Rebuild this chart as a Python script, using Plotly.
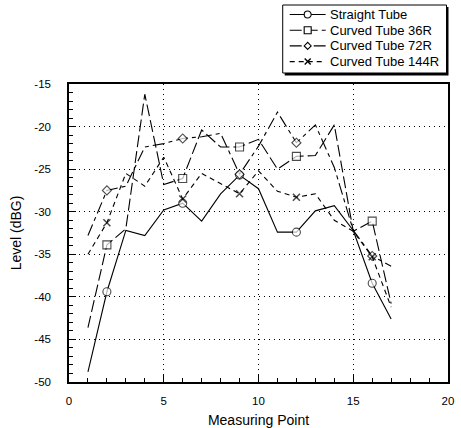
import plotly.graph_objects as go

# ---- data ----
measuring_point = list(range(1, 18))
straight_tube = [-48.8, -39.4, -32.2, -32.8, -29.8, -29.0, -31.1, -27.9, -25.7,
                 -27.3, -32.4, -32.4, -29.9, -29.3, -32.2, -38.4, -42.6]
curved_36r = [-43.6, -33.9, -32.0, -16.2, -26.8, -26.1, -20.4, -22.4, -22.4,
              -21.5, -25.0, -23.5, -23.4, -19.8, -32.3, -31.1, -40.8]
curved_72r = [-32.8, -27.5, -27.0, -22.4, -22.0, -21.4, -21.2, -20.8, -25.6,
              -22.3, -18.3, -21.9, -19.8, -24.8, -32.2, -35.2, -36.4]
curved_144r = [-35.0, -31.3, -25.5, -27.0, -23.6, -28.5, -25.5, -26.7, -27.9,
               -25.2, -27.6, -28.3, -27.9, -31.0, -32.3, -35.3, -41.2]
marked_points = [2, 6, 9, 12, 16]

series_names = ["Straight Tube", "Curved Tube 36R", "Curved Tube 72R", "Curved Tube 144R"]
x_ticks = [0, 5, 10, 15, 20]
x_ticktext = ["0", "5", "10", "15", "20"]
y_ticks = [-50, -45, -40, -35, -30, -25, -20, -15]
y_ticktext = ["-50", "-45", "-40", "-35", "-30", "-25", "-20", "-15"]

FONT = "Liberation Sans, Arial, Helvetica, sans-serif"
W, H = 461, 428
ML, MR, MT, MB = 69, 12.5, 84, 46
PL, PR, PT, PB = ML, W - MR, MT, H - MB


def px_x(px):
    return (px - PL) / (PR - PL)


def px_y(py):
    return (PB - py) / (PB - PT)


styles = [
    dict(dash="solid", symbol="circle", size=8),
    dict(dash="12px,4px", symbol="square", size=8),
    dict(dash="12px,4px,4px,4px", symbol="diamond", size=7),
    dict(dash="5px,4px", symbol="x-thin", size=7),
]
data = [straight_tube, curved_36r, curved_72r, curved_144r]
LW = 1.1

fig = go.Figure()
for name, ys, st in zip(series_names, data, styles):
    sizes = [st["size"] if x in marked_points else 0 for x in measuring_point]
    if st["symbol"] == "x-thin":
        marker = dict(symbol="x-thin", size=sizes, color="black",
                      line=dict(color="black", width=1.5))
    else:
        marker = dict(symbol=st["symbol"], size=sizes, color="white",
                      line=dict(color="black", width=1.1))
    fig.add_trace(go.Scatter(
        x=measuring_point, y=ys, mode="lines+markers", name=name,
        line=dict(color="black", width=LW, dash=st["dash"]),
        marker=marker, showlegend=False))

# ---- hand-drawn legend box (compact, like the original) ----
shapes = []
annotations = []
box_l, box_t, box_r, box_b = 283, 5, 447, 73
shapes.append(dict(type="rect", xref="paper", yref="paper",
                   x0=px_x(box_l + 2), x1=px_x(box_r + 2), y0=px_y(box_b + 2.5), y1=px_y(box_t + 2),
                   fillcolor="black", line=dict(width=0), layer="above"))
shapes.append(dict(type="rect", xref="paper", yref="paper",
                   x0=px_x(box_l), x1=px_x(box_r), y0=px_y(box_b), y1=px_y(box_t),
                   fillcolor="white", line=dict(color="black", width=1), layer="above"))
row_y = [14.5, 30.2, 45.9, 61.6]
sym_l, sym_r, sym_c, text_x = 290, 326, 308, 328
for name, st, ry in zip(series_names, styles, row_y):
    shapes.append(dict(type="line", xref="paper", yref="paper",
                       x0=px_x(sym_l), x1=px_x(sym_r), y0=px_y(ry), y1=px_y(ry),
                       line=dict(color="black", width=LW, dash=st["dash"]), layer="above"))
    common = dict(xref="paper", yref="paper", xsizemode="pixel", ysizemode="pixel",
                  xanchor=px_x(sym_c), yanchor=px_y(ry), layer="above")
    if st["symbol"] == "circle":
        shapes.append(dict(type="circle", x0=-3.5, x1=3.5, y0=-3.5, y1=3.5,
                           fillcolor="white", line=dict(color="black", width=1.1), **common))
    elif st["symbol"] == "square":
        shapes.append(dict(type="rect", x0=-3.5, x1=3.5, y0=-3.5, y1=3.5,
                           fillcolor="white", line=dict(color="black", width=1.1), **common))
    elif st["symbol"] == "diamond":
        shapes.append(dict(type="path", path="M0,-3.5 L3.5,0 L0,3.5 L-3.5,0 Z",
                           fillcolor="white", line=dict(color="black", width=1.1), **common))
    else:
        shapes.append(dict(type="path", path="M-3,-3 L3,3 M-3,3 L3,-3",
                           line=dict(color="black", width=1.4), **common))
    annotations.append(dict(xref="paper", yref="paper", x=px_x(text_x), y=px_y(ry),
                            xanchor="left", yanchor="middle", text=name, showarrow=False,
                            font=dict(family=FONT, size=13, color="black")))

axis_common = dict(
    showline=True, linecolor="black", linewidth=1.5, mirror=True,
    showgrid=True, gridcolor="black", gridwidth=1, griddash="1px,4px",
    zeroline=False, ticks="inside", ticklen=7, tickcolor="black", tickwidth=1,
    tickfont=dict(family=FONT, size=11.5, color="black"),
    automargin=False,
)

fig.update_xaxes(
    range=[0, 20], tickvals=x_ticks, ticktext=x_ticktext,
    minor=dict(dtick=1, tick0=0, ticks="inside", ticklen=4, tickcolor="black", showgrid=False),
    title=dict(text="Measuring Point", font=dict(family=FONT, size=14, color="black"), standoff=15),
    ticklabelstandoff=7,
    **axis_common)
fig.update_yaxes(
    range=[-50, -15], tickvals=y_ticks, ticktext=y_ticktext,
    minor=dict(dtick=1, tick0=0, ticks="inside", ticklen=4, tickcolor="black", showgrid=False),
    title=dict(text="Level (dBG)", font=dict(family=FONT, size=14, color="black"), standoff=9),
    ticklabelstandoff=14,
    **axis_common)

fig.update_layout(
    width=W, height=H,
    margin=dict(l=ML, r=MR, t=MT, b=MB),
    paper_bgcolor="white", plot_bgcolor="white",
    font=dict(family=FONT, size=11, color="black"),
    showlegend=False,
    shapes=shapes, annotations=annotations,
)

fig.write_html("out.html")
